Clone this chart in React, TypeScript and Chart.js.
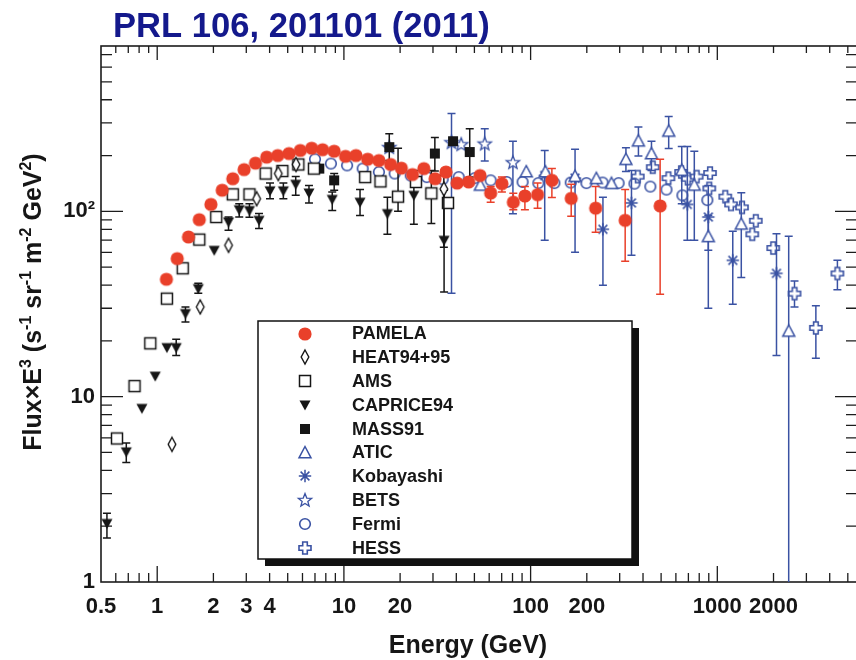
import React, { useEffect, useRef } from 'react';
import { Chart, registerables } from 'chart.js';

Chart.register(...registerables);

const RED = '#e9402a';
const BLUE = '#3a52a3';
const INK = '#161616';
const NAVY = '#14198c';
const FONT = '"Liberation Sans", Arial, Helvetica, sans-serif';

// Axis ranges and tick positions
const X_MIN = 0.5;
const X_MAX = 5600;
const Y_MIN = 1;
const Y_MAX = 780;
const xTickLabels = [0.5, 1, 2, 3, 4, 10, 20, 100, 200, 1000, 2000];
const yTickLabels = [1, 10, 100];
const xMajorTicks = [1, 10, 100, 1000];
const xMinorTicks = [0.6, 0.7, 0.8, 0.9, 2, 3, 4, 5, 6, 7, 8, 9, 20, 30, 40, 50, 60, 70, 80, 90,
  200, 300, 400, 500, 600, 700, 800, 900, 2000, 3000, 4000, 5000];
const yMajorTicks = [10, 100];
const yMinorTicks = [2, 3, 4, 5, 6, 7, 8, 9, 20, 30, 40, 50, 60, 70, 80, 90, 200, 300, 400, 500, 600, 700];

// PAMELA electron spectrum (E in GeV, flux x E^3)
const pamelaE = [1.12, 1.28, 1.47, 1.68, 1.94, 2.23, 2.54, 2.92, 3.36, 3.86, 4.42, 5.08, 5.84, 6.72, 7.69,
  8.87, 10.2, 11.6, 13.4, 15.4, 17.8, 20.3, 23.3, 26.8, 30.8, 35.2, 40.4, 46.6, 53.6, 61.1, 70.2, 80.8,
  93.2, 109, 130, 165, 223, 321, 494];
const pamelaF = [43.0, 55.6, 72.7, 90.2, 109, 130, 150, 168, 182, 196, 200, 205, 213, 219, 215,
  211, 198, 200, 191, 188, 179, 171, 158, 170, 150, 163, 142, 144, 156, 125.5, 141, 112,
  121, 123, 147, 117.5, 104, 89.4, 107];
const pamelaLo = [null, null, null, null, null, null, null, null, null, null, null, null, null, null, null,
  null, null, null, null, null, null, null, null, null, null, null, null, null, null, 112, 127, 102,
  102, 104, 118.6, 94, 77, 53.8, 35.7];
const pamelaHi = [null, null, null, null, null, null, null, null, null, null, null, null, null, null, null,
  null, null, null, null, null, null, null, null, null, null, null, null, null, null, 136, 153, 125,
  136, 142, 170, 140, 136, 131, 191];

// HEAT94+95
const heatE = [1.20, 1.70, 2.41, 3.41, 4.45, 5.54, 34.3];
const heatF = [5.53, 30.5, 65.6, 117, 160, 179, 132];
const heatLo = [null, null, null, null, null, null, 64];
const heatHi = [null, null, null, null, null, null, 156];

// AMS
const amsE = [0.609, 0.756, 0.918, 1.127, 1.37, 1.68, 2.07, 2.54, 3.12, 3.81, 4.68, 5.70, 6.91,
  13.0, 15.7, 19.5, 24.3, 29.4, 36.1];
const amsF = [5.95, 11.4, 19.4, 33.8, 49.3, 70.4, 93.2, 123.5, 123.5, 160, 165, 179, 170,
  153, 145, 120, 144, 125, 111];
const amsLo = [null, null, null, null, null, null, null, null, null, null, null, null, null,
  null, null, 100, null, 86, null];
const amsHi = [null, null, null, null, null, null, null, null, null, null, null, null, null,
  null, null, 219, null, 166, null];

// CAPRICE94
const capriceE = [0.538, 0.683, 0.828, 0.976, 1.127, 1.264, 1.417, 1.66, 2.02, 2.41, 2.75, 3.12, 3.51,
  4.02, 4.74, 5.52, 6.50, 8.66, 12.2, 17.1, 23.7, 34.4];
const capriceF = [2.07, 5.04, 8.64, 12.9, 18.4, 18.4, 28.1, 38.3, 61.6, 87.6, 102, 101, 89.4,
  129, 129, 140, 125.5, 116, 112, 97.2, 122, 69.8];
const capriceLo = [1.73, 4.42, null, null, null, 16.7, 25.3, 36.1, null, 79.0, 93.2, 93, 80.7,
  117, 117, 122, 111, 101, 95.1, 75.2, 85.1, 36.7];
const capriceHi = [2.35, 5.63, null, null, null, 20.4, 30.5, 40.9, null, 93.2, 110, 110, 97.2,
  142, 142, 154, 138, 127, 131, 119, 166, 130];

// MASS91
const massE = [7.38, 8.87, 17.5, 30.7, 38.4, 47.2];
const massF = [170, 147, 222, 205, 239, 209];
const massLo = [null, 130, 188, 165, null, 153];
const massHi = [null, 160, 262, 250, null, 279];

// ATIC
const aticE = [53.8, 94.8, 120, 173, 225, 271, 324, 378, 444, 549, 645, 753, 895, 1344, 2412];
const aticF = [138, 163, 163, 154, 150, 141, 190, 239, 204, 270, 166, 138, 72.9, 85.1, 22.5];
const aticLo = [null, null, null, null, null, null, 164, 199, 166, 218, 110, 69.8, 30.0, 43.9, 0.5];
const aticHi = [null, null, null, null, null, null, 220, 285, 239, 325, 224, 211, 95.1, 126, 73.3];

// Kobayashi
const kobE = [119, 173, 244, 347, 691, 895, 1210, 2075];
const kobF = [156, 151, 80, 111, 109, 93.2, 54.4, 46.3];
const kobLo = [69.8, 60.1, 39.9, 57.9, 69.8, 61.6, 31.5, 16.7];
const kobHi = [213, 216, 119, 166, 224, 138, 78, 75.8];

// BETS
const betsE = [17.5, 37.7, 42.5, 56.8, 80.4];
const betsF = [222, 236, 230, 232, 184];
const betsLo = [null, 36.1, null, 187, 97];
const betsHi = [null, 337, null, 279, 239];

// Fermi
const fermiE = [7.0, 8.52, 10.4, 12.6, 15.4, 18.7, 22.8, 27.8, 33.8, 41.2, 50.2, 61.1, 74.4, 90.6,
  110, 134, 164, 199, 243, 296, 360, 438, 534, 650, 884];
const fermiF = [191, 181, 177, 170, 163, 160, 156, 153, 149, 153, 151, 147, 144, 144,
  142, 142, 143, 142, 143, 142, 141, 136, 131, 122, 115];

// HESS
const hessE = [375, 451, 547, 640, 694, 775, 914, 906, 1103, 1184, 1356, 1607, 1539, 1993, 2591, 3372, 4398];
const hessF = [154, 173, 151, 163, 150, 154, 161, 133, 120, 109, 105, 88.9, 75.2, 63.4, 36.0, 23.5, 46.2];
const hessLo = [null, null, null, null, null, null, null, null, null, null, null, null, null, null, 30.5, 16.1, 37.8];
const hessHi = [null, null, null, null, null, null, null, null, null, null, null, null, null, null, 42.1, 30.9, 54.4];

type Series = {
  name: string;
  marker: string;
  color: string;
  E: number[];
  F: number[];
  lo?: (number | null)[];
  hi?: (number | null)[];
};

// Legend order; the first one is painted on top
const series: Series[] = [
  { name: 'PAMELA', marker: 'pamela', color: RED, E: pamelaE, F: pamelaF, lo: pamelaLo, hi: pamelaHi },
  { name: 'HEAT94+95', marker: 'heat', color: INK, E: heatE, F: heatF, lo: heatLo, hi: heatHi },
  { name: 'AMS', marker: 'ams', color: INK, E: amsE, F: amsF, lo: amsLo, hi: amsHi },
  { name: 'CAPRICE94', marker: 'caprice', color: INK, E: capriceE, F: capriceF, lo: capriceLo, hi: capriceHi },
  { name: 'MASS91', marker: 'mass', color: INK, E: massE, F: massF, lo: massLo, hi: massHi },
  { name: 'ATIC', marker: 'atic', color: BLUE, E: aticE, F: aticF, lo: aticLo, hi: aticHi },
  { name: 'Kobayashi', marker: 'kob', color: BLUE, E: kobE, F: kobF, lo: kobLo, hi: kobHi },
  { name: 'BETS', marker: 'bets', color: BLUE, E: betsE, F: betsF, lo: betsLo, hi: betsHi },
  { name: 'Fermi', marker: 'fermi', color: BLUE, E: fermiE, F: fermiF },
  { name: 'HESS', marker: 'hess', color: BLUE, E: hessE, F: hessF, lo: hessLo, hi: hessHi },
];

function makeMarker(kind: string): HTMLCanvasElement {
  const size = 20;
  const cv = document.createElement('canvas');
  cv.width = size;
  cv.height = size;
  const c = cv.getContext('2d') as CanvasRenderingContext2D;
  c.translate(size / 2, size / 2);
  c.lineJoin = 'miter';
  switch (kind) {
    case 'pamela':
      c.fillStyle = RED;
      c.beginPath();
      c.arc(0, 0, 6.6, 0, Math.PI * 2);
      c.fill();
      break;
    case 'heat':
      c.beginPath();
      c.moveTo(0, -7); c.lineTo(3.8, 0); c.lineTo(0, 7); c.lineTo(-3.8, 0); c.closePath();
      c.fillStyle = '#fff'; c.fill();
      c.strokeStyle = INK; c.lineWidth = 1.4; c.stroke();
      break;
    case 'ams':
      c.fillStyle = '#fff'; c.fillRect(-5.5, -5.5, 11, 11);
      c.strokeStyle = INK; c.lineWidth = 1.5; c.strokeRect(-5.5, -5.5, 11, 11);
      break;
    case 'caprice':
      c.beginPath();
      c.moveTo(-5.5, -4.5); c.lineTo(5.5, -4.5); c.lineTo(0, 5.5); c.closePath();
      c.fillStyle = INK; c.fill();
      break;
    case 'mass':
      c.fillStyle = INK; c.fillRect(-5, -5, 10, 10);
      break;
    case 'atic':
      c.beginPath();
      c.moveTo(0, -6.5); c.lineTo(6, 4.8); c.lineTo(-6, 4.8); c.closePath();
      c.fillStyle = '#fff'; c.fill();
      c.strokeStyle = BLUE; c.lineWidth = 1.5; c.stroke();
      break;
    case 'kob': {
      c.strokeStyle = BLUE; c.lineWidth = 1.5;
      c.beginPath();
      for (let k = 0; k < 4; k++) {
        const a = (k * Math.PI) / 4;
        c.moveTo(-6.2 * Math.cos(a), -6.2 * Math.sin(a));
        c.lineTo(6.2 * Math.cos(a), 6.2 * Math.sin(a));
      }
      c.stroke();
      break;
    }
    case 'bets': {
      c.beginPath();
      for (let k = 0; k < 10; k++) {
        const r = k % 2 === 0 ? 7 : 3;
        const a = -Math.PI / 2 + (k * Math.PI) / 5;
        const px = r * Math.cos(a);
        const py = r * Math.sin(a) + 0.5;
        if (k === 0) c.moveTo(px, py); else c.lineTo(px, py);
      }
      c.closePath();
      c.fillStyle = '#fff'; c.fill();
      c.strokeStyle = BLUE; c.lineWidth = 1.3; c.stroke();
      break;
    }
    case 'fermi':
      c.strokeStyle = BLUE; c.lineWidth = 1.6;
      c.beginPath(); c.arc(0, 0, 5.3, 0, Math.PI * 2); c.stroke();
      break;
    case 'hess': {
      const w = 2.3, e = 6;
      c.beginPath();
      c.moveTo(-w, -e); c.lineTo(w, -e); c.lineTo(w, -w); c.lineTo(e, -w); c.lineTo(e, w);
      c.lineTo(w, w); c.lineTo(w, e); c.lineTo(-w, e); c.lineTo(-w, w); c.lineTo(-e, w);
      c.lineTo(-e, -w); c.lineTo(-w, -w); c.closePath();
      c.fillStyle = '#fff'; c.fill();
      c.strokeStyle = BLUE; c.lineWidth = 1.6; c.stroke();
      break;
    }
  }
  return cv;
}

export default function App() {
  const canvasRef = useRef<HTMLCanvasElement | null>(null);

  useEffect(() => {
    const canvas = canvasRef.current;
    if (!canvas) return;
    const markers: Record<string, HTMLCanvasElement> = {};
    series.forEach((s) => { markers[s.marker] = makeMarker(s.marker); });

    // Vertical error bars, painted just under each dataset's own markers
    const errorBars = {
      id: 'errorBars',
      beforeDatasetDraw(chart: any, args: any) {
        const s = series[args.index];
        if (!s || !s.lo || !s.hi) return;
        const { ctx, chartArea } = chart;
        const xs = chart.scales.x;
        const ys = chart.scales.y;
        ctx.save();
        ctx.beginPath();
        ctx.rect(chartArea.left, chartArea.top, chartArea.right - chartArea.left, chartArea.bottom - chartArea.top);
        ctx.clip();
        ctx.strokeStyle = s.color;
        ctx.lineWidth = 1.5;
        s.E.forEach((e, i) => {
          const lo = s.lo![i];
          const hi = s.hi![i];
          if (lo == null || hi == null) return;
          const px = xs.getPixelForValue(e);
          const pl = ys.getPixelForValue(lo);
          const ph = ys.getPixelForValue(hi);
          ctx.beginPath();
          ctx.moveTo(px, pl); ctx.lineTo(px, ph);
          ctx.moveTo(px - 4, pl); ctx.lineTo(px + 4, pl);
          ctx.moveTo(px - 4, ph); ctx.lineTo(px + 4, ph);
          ctx.stroke();
        });
        ctx.restore();
      },
    };

    // Frame with inward tick marks on all four sides
    const frame = {
      id: 'frame',
      beforeDatasetsDraw(chart: any) {
        const { ctx, chartArea: a } = chart;
        const xs = chart.scales.x;
        const ys = chart.scales.y;
        ctx.save();
        ctx.strokeStyle = '#1c1c1c';
        ctx.lineWidth = 1.6;
        ctx.strokeRect(a.left, a.top, a.right - a.left, a.bottom - a.top);
        ctx.lineWidth = 1.3;
        ctx.beginPath();
        const xt = (v: number, lb: number, lt: number) => {
          const p = xs.getPixelForValue(v);
          ctx.moveTo(p, a.bottom); ctx.lineTo(p, a.bottom - lb);
          ctx.moveTo(p, a.top); ctx.lineTo(p, a.top + lt);
        };
        xMajorTicks.forEach((v) => xt(v, 16, 14));
        xMinorTicks.forEach((v) => xt(v, 9, 7));
        const yt = (v: number, len: number) => {
          const p = ys.getPixelForValue(v);
          ctx.moveTo(a.left, p); ctx.lineTo(a.left + len, p);
          ctx.moveTo(a.right, p); ctx.lineTo(a.right - len, p);
        };
        yMajorTicks.forEach((v) => yt(v, 22));
        yMinorTicks.forEach((v) => yt(v, 11));
        ctx.stroke();
        ctx.restore();
      },
    };

    // Titles and the boxed legend
    const decor = {
      id: 'decor',
      afterDraw(chart: any) {
        const { ctx, chartArea: a } = chart;
        ctx.save();
        ctx.fillStyle = NAVY;
        ctx.font = `bold 34.6px ${FONT}`;
        ctx.textAlign = 'left';
        ctx.textBaseline = 'alphabetic';
        ctx.fillText('PRL 106, 201101 (2011)', 113, 37);

        ctx.fillStyle = INK;
        ctx.font = `bold 25px ${FONT}`;
        ctx.textAlign = 'center';
        ctx.textBaseline = 'middle';
        ctx.fillText('Energy (GeV)', (a.left + 835) / 2, 646);

        // rotated y-axis title with superscripts
        const parts: [string, boolean][] = [
          ['Flux×E', false], ['3', true], [' (s', false], ['-1', true], [' sr', false], ['-1', true],
          [' m', false], ['-2', true], [' GeV', false], ['2', true], [')', false],
        ];
        const big = `bold 25px ${FONT}`;
        const small = `bold 16px ${FONT}`;
        let total = 0;
        parts.forEach(([t, sup]) => { ctx.font = sup ? small : big; total += ctx.measureText(t).width; });
        ctx.translate(41, 302);
        ctx.rotate(-Math.PI / 2);
        ctx.textAlign = 'left';
        ctx.textBaseline = 'alphabetic';
        let cx = -total / 2;
        parts.forEach(([t, sup]) => {
          ctx.font = sup ? small : big;
          ctx.fillText(t, cx, sup ? -10 : 0);
          cx += ctx.measureText(t).width;
        });
        ctx.restore();

        // legend
        const L = { left: 258, top: 321, right: 632, bottom: 559 };
        ctx.save();
        ctx.fillStyle = '#111';
        ctx.fillRect(L.left + 7, L.top + 7, L.right - L.left, L.bottom - L.top);
        ctx.fillStyle = '#fff';
        ctx.fillRect(L.left, L.top, L.right - L.left, L.bottom - L.top);
        ctx.strokeStyle = '#111';
        ctx.lineWidth = 1.5;
        ctx.strokeRect(L.left, L.top, L.right - L.left, L.bottom - L.top);
        ctx.font = `bold 18px ${FONT}`;
        ctx.fillStyle = INK;
        ctx.textAlign = 'left';
        ctx.textBaseline = 'middle';
        series.forEach((s, i) => {
          const y = L.top + 12.5 + i * 23.8;
          const m = markers[s.marker];
          ctx.drawImage(m, Math.round(305 - m.width / 2), Math.round(y - m.height / 2));
          ctx.fillText(s.name, 352, y + 1);
        });
        ctx.restore();
      },
    };

    const tickFont = { size: 22, weight: 'bold' as const, family: FONT };

    const chart = new Chart(canvas, {
      type: 'scatter',
      data: {
        datasets: series.map((s) => ({
          label: s.name,
          data: s.E.map((e, i) => ({ x: e, y: s.F[i] })),
          pointStyle: markers[s.marker],
          pointRadius: 6,
          pointHoverRadius: 6,
          showLine: false,
        })),
      },
      options: {
        animation: false,
        responsive: false,
        devicePixelRatio: 1,
        events: [],
        layout: { padding: { top: 46, right: 23, left: 0, bottom: 0 }, autoPadding: false },
        plugins: {
          legend: { display: false },
          tooltip: { enabled: false },
          title: { display: false },
        },
        scales: {
          x: {
            type: 'logarithmic',
            min: X_MIN,
            max: X_MAX,
            grid: { display: false, drawTicks: false },
            border: { display: false },
            ticks: {
              autoSkip: false,
              maxRotation: 0,
              minRotation: 0,
              padding: 12,
              color: INK,
              font: tickFont,
              callback: (v: any) => String(v),
            },
            afterBuildTicks: (s: any) => { s.ticks = xTickLabels.map((v) => ({ value: v })); },
            afterFit: (s: any) => { s.height = 78; },
          },
          y: {
            type: 'logarithmic',
            min: Y_MIN,
            max: Y_MAX,
            grid: { display: false, drawTicks: false },
            border: { display: false },
            ticks: {
              autoSkip: false,
              padding: 6,
              color: INK,
              font: tickFont,
              callback: (v: any) => (Number(v) === 100 ? '10²' : String(v)),
            },
            afterBuildTicks: (s: any) => { s.ticks = yTickLabels.map((v) => ({ value: v })); },
            afterFit: (s: any) => { s.width = 101; },
          },
        },
      } as any,
      plugins: [frame, errorBars, decor],
    });

    return () => chart.destroy();
  }, []);

  return (
    <div style={{ position: 'fixed', left: 0, top: 0, width: 856, height: 660, overflow: 'hidden', background: '#fff' }}>
      <canvas ref={canvasRef} width={880} height={660} style={{ display: 'block' }} />
    </div>
  );
}
